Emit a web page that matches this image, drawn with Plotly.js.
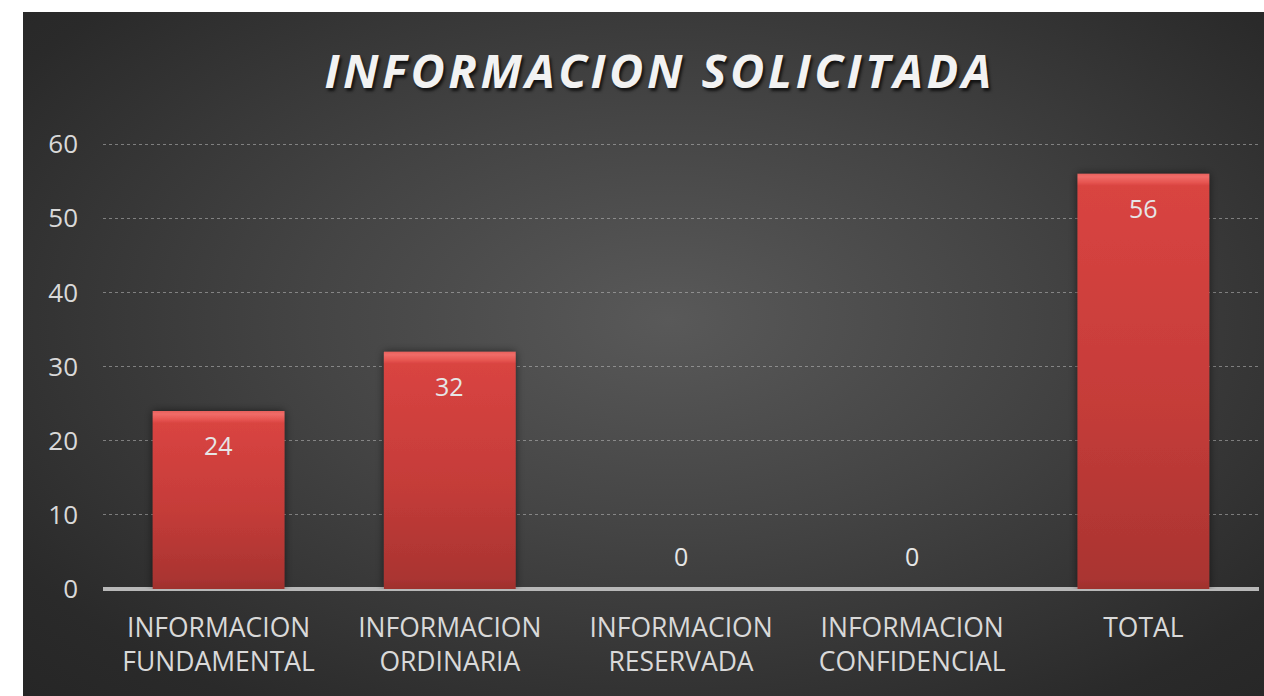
<!DOCTYPE html>
<html>
<head>
<meta charset="utf-8">
<script src="https://cdn.plot.ly/plotly-3.0.1.min.js"></script>
<style>
  html, body { margin: 0; padding: 0; background: #ffffff; width: 1264px; height: 696px; overflow: hidden; }
  #wrap {
    position: absolute; left: 23px; top: 12px; width: 1241px; height: 684px;
    background: radial-gradient(ellipse farthest-corner at 52% 45%, #595959 0%, #444444 40%, #2a2a2a 85%, #262626 100%);
  }
  #chart { width: 1241px; height: 684px; }
  .gtitle { letter-spacing: 3.5px; }
</style>
</head>
<body>
<div id="wrap"><div id="chart"></div></div>
<script>
const categories = ["INFORMACION<br>FUNDAMENTAL", "INFORMACION<br>ORDINARIA", "INFORMACION<br>RESERVADA", "INFORMACION<br>CONFIDENCIAL", "TOTAL"];
const values = [24, 32, 0, 0, 56];
const yTicks = [0, 10, 20, 30, 40, 50, 60];
const chartTitle = "INFORMACION SOLICITADA";

const labelColor = "#d9d9d9";
const fontFamily = "'Open Sans', 'Noto Sans', sans-serif";

const trace = {
  type: "bar",
  x: categories,
  y: values,
  marker: { color: "#c93d3a", line: { width: 0 } },
  hoverinfo: "skip"
};

const annotations = categories.map((c, i) => ({
  x: c, y: values[i], xref: "x", yref: "y",
  text: String(values[i]), showarrow: false,
  yshift: values[i] > 0 ? -34 : 33,
  font: { family: fontFamily, size: 25, color: "#e6e6e6" }
}));

const layout = {
  width: 1241, height: 684,
  paper_bgcolor: "rgba(0,0,0,0)",
  plot_bgcolor: "rgba(0,0,0,0)",
  margin: { l: 80, r: 5, t: 131, b: 107 },
  showlegend: false,
  bargap: 0.43,
  title: {
    text: chartTitle,
    x: 0.513, xanchor: "center",
    y: 1 - 60 / 684, yanchor: "middle", yref: "container",
    font: { family: fontFamily, size: 47, color: "#f2f2f2", weight: 700, style: "italic",
            shadow: "2px 3px 3px rgba(0,0,0,0.7)" }
  },
  xaxis: {
    type: "category",
    tickfont: { family: fontFamily, size: 26.5, color: labelColor },
    showgrid: false, zeroline: false, showline: false,
    ticks: "", ticklabelstandoff: 20, fixedrange: true
  },
  yaxis: {
    range: [0, 60.15],
    tickvals: yTicks,
    ticktext: yTicks.map(String),
    tickfont: { family: fontFamily, size: 26, color: labelColor },
    showgrid: true, gridcolor: "rgba(200,200,200,0.5)", griddash: "dot", gridwidth: 1,
    zeroline: true, zerolinecolor: "#b8b8b8", zerolinewidth: 4,
    showline: false, ticks: "", ticklabelstandoff: 24, fixedrange: true
  },
  annotations: annotations
};

Plotly.newPlot("chart", [trace], layout, { staticPlot: true, displayModeBar: false }).then(gd => {
  const svgNS = "http://www.w3.org/2000/svg";
  const svg = gd.querySelector("svg.main-svg");
  let defs = svg.querySelector("defs");
  if (!defs) { defs = document.createElementNS(svgNS, "defs"); svg.insertBefore(defs, svg.firstChild); }
  const filt = document.createElementNS(svgNS, "filter");
  filt.setAttribute("id", "barShadow");
  filt.setAttribute("x", "-20%"); filt.setAttribute("y", "-20%");
  filt.setAttribute("width", "140%"); filt.setAttribute("height", "140%");
  const ds = document.createElementNS(svgNS, "feDropShadow");
  ds.setAttribute("dx", "0"); ds.setAttribute("dy", "0");
  ds.setAttribute("stdDeviation", "4");
  ds.setAttribute("flood-color", "#000"); ds.setAttribute("flood-opacity", "0.55");
  filt.appendChild(ds); defs.appendChild(filt);

  const paths = gd.querySelectorAll(".barlayer .point path");
  paths.forEach((p, i) => {
    const bb = p.getBBox();
    if (bb.height < 1) { p.style.display = "none"; return; }
    const g = document.createElementNS(svgNS, "linearGradient");
    const id = "barGrad" + i;
    g.setAttribute("id", id);
    g.setAttribute("gradientUnits", "userSpaceOnUse");
    g.setAttribute("x1", "0"); g.setAttribute("x2", "0");
    g.setAttribute("y1", bb.y); g.setAttribute("y2", bb.y + bb.height);
    const px = v => Math.min(1, v / bb.height);
    const stops = [
      [0, "#e8605c"], [px(3), "#f06c68"], [px(9), "#e5534f"], [px(12), "#d94441"],
      [0.55, "#c53c39"], [Math.max(0.56, 1 - px(10)), "#aa3431"], [1, "#9e302d"]
    ];
    stops.forEach(([o, c]) => {
      const s = document.createElementNS(svgNS, "stop");
      s.setAttribute("offset", o); s.setAttribute("stop-color", c);
      g.appendChild(s);
    });
    defs.appendChild(g);
    p.style.fill = "url(#" + id + ")";
    p.setAttribute("filter", "url(#barShadow)");
  });
});
</script>
</body>
</html>
